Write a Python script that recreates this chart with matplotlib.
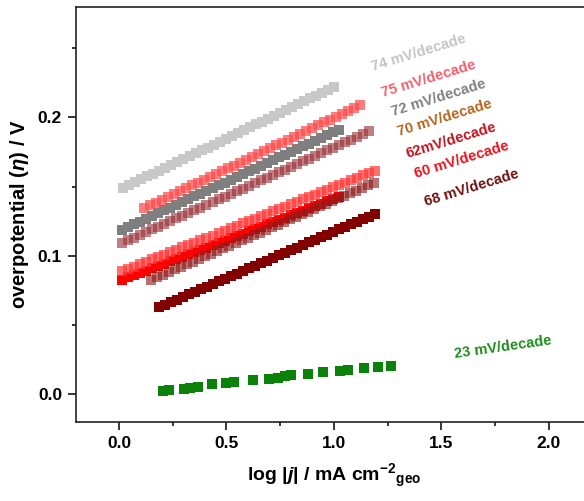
import matplotlib
matplotlib.use("Agg")
import matplotlib.pyplot as plt
from matplotlib.ticker import MultipleLocator, FixedLocator

plt.rcParams['font.family'] = ['Liberation Sans', 'DejaVu Sans']
plt.rcParams['font.weight'] = 'bold'
plt.rcParams['mathtext.fontset'] = 'custom'
plt.rcParams['mathtext.rm'] = 'Liberation Sans:bold'
plt.rcParams['mathtext.it'] = 'Liberation Sans:bold:italic'
plt.rcParams['mathtext.bf'] = 'Liberation Sans:bold'

# Tafel data: log|j| (x) vs overpotential (y) for each sample
x_lgray = [0.020, 0.048, 0.076, 0.104, 0.132, 0.160, 0.188, 0.216, 0.244, 0.272, 0.300, 0.328,
           0.356, 0.384, 0.412, 0.440, 0.468, 0.496, 0.524, 0.552, 0.580, 0.608, 0.636, 0.664,
           0.692, 0.720, 0.748, 0.776, 0.804, 0.832, 0.860, 0.888, 0.916, 0.944, 0.972, 1.000]
y_lgray = [0.1490, 0.1511, 0.1532, 0.1553, 0.1573, 0.1594, 0.1615, 0.1636, 0.1657, 0.1678, 0.1699, 0.1719,
           0.1740, 0.1761, 0.1782, 0.1803, 0.1824, 0.1845, 0.1865, 0.1886, 0.1907, 0.1928, 0.1949, 0.1970,
           0.1991, 0.2012, 0.2032, 0.2053, 0.2074, 0.2095, 0.2116, 0.2137, 0.2158, 0.2178, 0.2199, 0.2220]

x_pink = [0.115, 0.143, 0.171, 0.199, 0.227, 0.255, 0.283, 0.311, 0.339, 0.367, 0.395, 0.423,
          0.451, 0.479, 0.507, 0.535, 0.563, 0.591, 0.619, 0.647, 0.675, 0.703, 0.731, 0.759,
          0.787, 0.815, 0.843, 0.871, 0.899, 0.927, 0.955, 0.983, 1.011, 1.039, 1.067, 1.095, 1.123]
y_pink = [0.1342, 0.1363, 0.1383, 0.1404, 0.1425, 0.1445, 0.1466, 0.1487, 0.1508, 0.1528, 0.1549, 0.1570,
          0.1590, 0.1611, 0.1632, 0.1652, 0.1673, 0.1694, 0.1714, 0.1735, 0.1756, 0.1776, 0.1797, 0.1818,
          0.1839, 0.1859, 0.1880, 0.1901, 0.1921, 0.1942, 0.1963, 0.1983, 0.2004, 0.2025, 0.2045, 0.2066, 0.2087]

x_dgray = [0.015, 0.043, 0.071, 0.099, 0.127, 0.155, 0.183, 0.211, 0.239, 0.267, 0.295, 0.323,
           0.351, 0.379, 0.407, 0.435, 0.463, 0.491, 0.519, 0.547, 0.575, 0.603, 0.631, 0.659,
           0.687, 0.715, 0.743, 0.771, 0.799, 0.827, 0.855, 0.883, 0.911, 0.939, 0.967, 0.995, 1.023]
y_dgray = [0.1187, 0.1207, 0.1227, 0.1247, 0.1267, 0.1288, 0.1308, 0.1328, 0.1348, 0.1368, 0.1388, 0.1408,
           0.1428, 0.1448, 0.1469, 0.1489, 0.1509, 0.1529, 0.1549, 0.1569, 0.1589, 0.1609, 0.1629, 0.1649,
           0.1670, 0.1690, 0.1710, 0.1730, 0.1750, 0.1770, 0.1790, 0.1810, 0.1830, 0.1850, 0.1871, 0.1891, 0.1911]

x_rosy = [0.015, 0.043, 0.071, 0.099, 0.127, 0.155, 0.183, 0.211, 0.239, 0.267, 0.295, 0.323,
          0.351, 0.379, 0.407, 0.435, 0.463, 0.491, 0.519, 0.547, 0.575, 0.603, 0.631, 0.659,
          0.687, 0.715, 0.743, 0.771, 0.799, 0.827, 0.855, 0.883, 0.911, 0.939, 0.967, 0.995,
          1.023, 1.051, 1.079, 1.107, 1.135, 1.163]
y_rosy = [0.1092, 0.1112, 0.1131, 0.1151, 0.1171, 0.1190, 0.1210, 0.1230, 0.1249, 0.1269, 0.1289, 0.1308,
          0.1328, 0.1348, 0.1367, 0.1387, 0.1407, 0.1426, 0.1446, 0.1466, 0.1485, 0.1505, 0.1525, 0.1544,
          0.1564, 0.1584, 0.1603, 0.1623, 0.1643, 0.1662, 0.1682, 0.1702, 0.1721, 0.1741, 0.1761, 0.1780,
          0.1800, 0.1820, 0.1839, 0.1859, 0.1879, 0.1898]

x_lred = [0.015, 0.043, 0.071, 0.099, 0.127, 0.155, 0.183, 0.211, 0.239, 0.267, 0.295, 0.323,
          0.351, 0.379, 0.407, 0.435, 0.463, 0.491, 0.519, 0.547, 0.575, 0.603, 0.631, 0.659,
          0.687, 0.715, 0.743, 0.771, 0.799, 0.827, 0.855, 0.883, 0.911, 0.939, 0.967, 0.995,
          1.023, 1.051, 1.079, 1.107, 1.135, 1.163, 1.191]
y_lred = [0.0886, 0.0903, 0.0921, 0.0938, 0.0955, 0.0973, 0.0990, 0.1008, 0.1025, 0.1042, 0.1060, 0.1077,
          0.1094, 0.1112, 0.1129, 0.1146, 0.1164, 0.1181, 0.1198, 0.1216, 0.1233, 0.1251, 0.1268, 0.1285,
          0.1303, 0.1320, 0.1337, 0.1355, 0.1372, 0.1389, 0.1407, 0.1424, 0.1442, 0.1459, 0.1476, 0.1494,
          0.1511, 0.1528, 0.1546, 0.1563, 0.1580, 0.1598, 0.1615]

x_red = [0.015, 0.043, 0.071, 0.099, 0.127, 0.155, 0.183, 0.211, 0.239, 0.267, 0.295, 0.323,
         0.351, 0.379, 0.407, 0.435, 0.463, 0.491, 0.519, 0.547, 0.575, 0.603, 0.631, 0.659,
         0.687, 0.715, 0.743, 0.771, 0.799, 0.827, 0.855, 0.883, 0.911, 0.939, 0.967, 0.995, 1.023]
y_red = [0.0826, 0.0843, 0.0859, 0.0876, 0.0893, 0.0909, 0.0926, 0.0943, 0.0959, 0.0976, 0.0993, 0.1009,
         0.1026, 0.1043, 0.1059, 0.1076, 0.1093, 0.1109, 0.1126, 0.1143, 0.1159, 0.1176, 0.1193, 0.1209,
         0.1226, 0.1243, 0.1259, 0.1276, 0.1293, 0.1309, 0.1326, 0.1343, 0.1359, 0.1376, 0.1393, 0.1409, 0.1426]

x_dkrosy = [0.150, 0.178, 0.206, 0.234, 0.262, 0.290, 0.318, 0.346, 0.374, 0.402, 0.430, 0.458,
            0.486, 0.514, 0.542, 0.570, 0.598, 0.626, 0.654, 0.682, 0.710, 0.738, 0.766, 0.794,
            0.822, 0.850, 0.878, 0.906, 0.934, 0.962, 0.990, 1.018, 1.046, 1.074, 1.102, 1.130, 1.158, 1.186]
y_dkrosy = [0.0825, 0.0844, 0.0863, 0.0882, 0.0901, 0.0920, 0.0939, 0.0958, 0.0977, 0.0996, 0.1015, 0.1034,
            0.1053, 0.1072, 0.1091, 0.1110, 0.1129, 0.1148, 0.1167, 0.1186, 0.1205, 0.1224, 0.1243, 0.1262,
            0.1281, 0.1300, 0.1319, 0.1338, 0.1357, 0.1376, 0.1395, 0.1414, 0.1433, 0.1452, 0.1471, 0.1490, 0.1509, 0.1528]

x_maroon = [0.185, 0.213, 0.241, 0.269, 0.297, 0.325, 0.353, 0.381, 0.409, 0.437, 0.465, 0.493,
            0.521, 0.549, 0.577, 0.605, 0.633, 0.661, 0.689, 0.717, 0.745, 0.773, 0.801, 0.829,
            0.857, 0.885, 0.913, 0.941, 0.969, 0.997, 1.025, 1.053, 1.081, 1.109, 1.137, 1.165, 1.193]
y_maroon = [0.0627, 0.0646, 0.0665, 0.0683, 0.0702, 0.0721, 0.0740, 0.0758, 0.0777, 0.0796, 0.0815, 0.0833,
            0.0852, 0.0871, 0.0890, 0.0908, 0.0927, 0.0946, 0.0965, 0.0983, 0.1002, 0.1021, 0.1040, 0.1058,
            0.1077, 0.1096, 0.1115, 0.1133, 0.1152, 0.1171, 0.1190, 0.1208, 0.1227, 0.1246, 0.1265, 0.1283, 0.1302]

x_green = [0.205, 0.233, 0.301, 0.332, 0.368, 0.434, 0.496, 0.534, 0.624, 0.698, 0.740, 0.774,
           0.802, 0.880, 0.949, 1.027, 1.066, 1.138, 1.207, 1.267]
y_green = [0.0019, 0.0027, 0.0036, 0.0043, 0.0053, 0.0070, 0.0082, 0.0089, 0.0099, 0.0106, 0.0116, 0.0128,
           0.0137, 0.0147, 0.0157, 0.0166, 0.0173, 0.0186, 0.0195, 0.0205]

slope_labels = ["74 mV/decade", "75 mV/decade", "72 mV/decade", "70 mV/decade",
                "62mV/decade", "60 mV/decade", "68 mV/decade", "23 mV/decade"]
label_x = [1.394, 1.441, 1.488, 1.515, 1.546, 1.592, 1.639, 1.786]
label_y = [0.2463, 0.2275, 0.2144, 0.1999, 0.1836, 0.1692, 0.1487, 0.0337]
label_rot = [17, 17, 17, 17, 17, 17, 17, 8]
label_colors = ['#c4c4c4', '#f0606e', '#808080', '#b5651d', '#c0141e', '#e8141e', '#6e1010', '#1e8c1e']

fig = plt.figure(figsize=(5.84, 5.01), dpi=100)
ax = fig.add_axes([0.1301, 0.1583, 0.8836, 0.8283])

ms = 7.0
series = [
    (x_lgray, y_lgray, '#c8c8c8', 1.0),
    (x_dgray, y_dgray, '#7f7f7f', 1.0),
    (x_pink, y_pink, '#ff4a4a', 0.72),
    (x_rosy, y_rosy, '#9a3038', 0.62),
    (x_red, y_red, '#ff0000', 1.0),
    (x_lred, y_lred, '#ff3a3a', 0.72),
    (x_dkrosy, y_dkrosy, '#8e1c1c', 0.62),
    (x_maroon, y_maroon, '#820000', 1.0),
    (x_green, y_green, '#0a820a', 1.0),
]
for xs, ys, c, a in series:
    ax.plot(xs, ys, linestyle='none', marker='s', markersize=ms, markeredgewidth=0,
            color=c, alpha=a)

for t, tx, ty, r, c in zip(slope_labels, label_x, label_y, label_rot, label_colors):
    ax.text(tx, ty, t, color=c, fontsize=10.5, fontweight='bold', rotation=r,
            ha='center', va='center', rotation_mode='anchor')

ax.set_xlim(-0.2, 2.2)
ax.set_ylim(-0.02, 0.28)
ax.xaxis.set_major_locator(FixedLocator([0.0, 0.5, 1.0, 1.5, 2.0]))
ax.xaxis.set_minor_locator(MultipleLocator(0.25))
ax.yaxis.set_major_locator(FixedLocator([0.0, 0.1, 0.2]))
ax.yaxis.set_minor_locator(MultipleLocator(0.05))
ax.set_xticklabels(['0.0', '0.5', '1.0', '1.5', '2.0'])
ax.set_yticklabels(['0.0', '0.1', '0.2'])

ax.tick_params(which='major', direction='out', length=6, width=1.1, labelsize=12.5, pad=4)
ax.tick_params(which='minor', direction='out', length=3, width=1.1)
ax.tick_params(top=False, right=False, which='both')
for lab in ax.get_xticklabels() + ax.get_yticklabels():
    lab.set_fontweight('bold')
for s in ax.spines.values():
    s.set_linewidth(1.2)
    s.set_color('#222222')

ax.set_xlabel(r'log |$j$| / mA cm$^{-2}$$_{\mathrm{geo}}$', fontsize=14, fontweight='bold', labelpad=8)
ax.set_ylabel(r'overpotential ($\eta$) / V', fontsize=14.5, fontweight='bold', labelpad=5)

fig.savefig('out.png', dpi=100)
